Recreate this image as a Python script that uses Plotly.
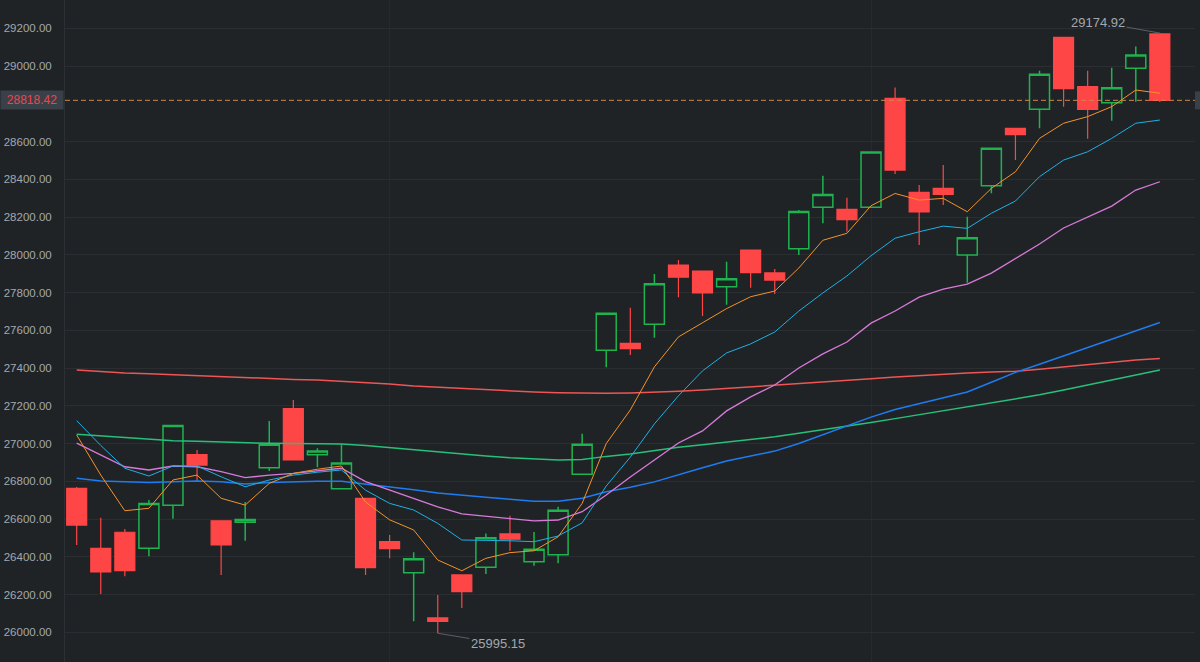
import plotly.graph_objects as go

# ---------------- data ----------------
opens = [26763, 26445, 26530, 26445, 26673, 26941, 26591, 26583, 26872, 27185,
         26941, 26761, 26710, 26480, 26316, 26076, 26304, 26344, 26521, 26374,
         26411, 26837, 27494, 27531, 27632, 27946, 27914, 27831, 28025, 27904,
         28032, 28252, 28241, 28252, 28829, 28331, 28352, 27999, 28366, 28670,
         28771, 29152, 28891, 28806, 28988, 29170]
highs = [26770, 26607, 26547, 26701, 27095, 26966, 26591, 26690, 27119, 27231,
         26975, 26996, 26710, 26515, 26424, 26198, 26304, 26524, 26618, 26531,
         26665, 27052, 27690, 27720, 27898, 27972, 27914, 27963, 28025, 27925,
         28237, 28419, 28302, 28546, 28887, 28370, 28476, 28202, 28564, 28670,
         28975, 29152, 28975, 28991, 29103, 29174.92]
lows = [26462, 26203, 26297, 26403, 26602, 26802, 26304, 26485, 26855, 26914,
        26874, 26761, 26304, 26392, 26058, 25995.15, 26129, 26309, 26432, 26353,
        26366, 26837, 27404, 27469, 27561, 27775, 27676, 27736, 27826, 27792,
        27999, 28167, 28122, 28252, 28428, 28052, 28264, 27852, 28326, 28502,
        28670, 28785, 28615, 28710, 28811, 28810]
closes = [26568, 26320, 26326, 26683, 27095, 26886, 26463, 26597, 26996, 26914,
          26960, 26897, 26342, 26443, 26390, 26058, 26215, 26501, 26493, 26440,
          26646, 26996, 27690, 27503, 27847, 27881, 27798, 27873, 27905, 27866,
          28230, 28320, 28186, 28545, 28449, 28227, 28320, 28091, 28564, 28636,
          28956, 28880, 28771, 28885, 29059, 28818.42]

ma5 = [27045, 26833, 26644, 26657, 26807, 26833, 26710, 26674, 26789, 26842,
       26864, 26881, 26690, 26596, 26542, 26383, 26326, 26392, 26422, 26432,
       26506, 26683, 27000, 27178, 27406, 27565, 27640, 27715, 27778, 27808,
       27930, 28077, 28114, 28260, 28325, 28290, 28299, 28228, 28352, 28440,
       28617, 28697, 28732, 28785, 28873, 28856]
ma10 = [27121, 26990, 26869, 26828, 26881, 26881, 26824, 26771, 26807, 26833,
        26848, 26860, 26753, 26683, 26648, 26577, 26489, 26489, 26485, 26480,
        26510, 26580, 26775, 26928, 27104, 27253, 27385, 27480, 27528, 27591,
        27702, 27798, 27888, 27995, 28088, 28122, 28152, 28140, 28220, 28285,
        28414, 28502, 28546, 28617, 28697, 28714]
ma20 = [27002, 26940, 26877, 26860, 26881, 26877, 26851, 26819, 26833, 26842,
        26854, 26869, 26798, 26754, 26710, 26665, 26627, 26616, 26604, 26590,
        26595, 26639, 26727, 26823, 26913, 27003, 27067, 27173, 27247, 27310,
        27400, 27475, 27538, 27638, 27702, 27776, 27818, 27845, 27903, 27978,
        28057, 28142, 28202, 28258, 28343, 28387]
ma30 = [26816, 26802, 26797, 26793, 26798, 26802, 26798, 26786, 26793, 26797,
        26800, 26800, 26786, 26770, 26755, 26738, 26725, 26716, 26705, 26694,
        26694, 26710, 26745, 26768, 26797, 26836, 26872, 26908, 26935, 26960,
        27000, 27047, 27093, 27140, 27180, 27212, 27243, 27273, 27325, 27377,
        27420, 27465, 27508, 27551, 27597, 27641]
ma60 = [27049, 27040, 27030, 27020, 27015, 27012, 27008, 27003, 27001, 27000,
        27000, 26997, 26990, 26978, 26966, 26955, 26943, 26934, 26925, 26918,
        26913, 26915, 26932, 26945, 26962, 26980, 26993, 27007, 27021, 27036,
        27054, 27072, 27090, 27111, 27132, 27153, 27172, 27193, 27214, 27235,
        27258, 27284, 27311, 27340, 27366, 27390]
ma120 = [27390, 27381, 27374, 27370, 27365, 27360, 27355, 27347, 27343, 27340,
         27337, 27330, 27322, 27315, 27305, 27298, 27292, 27287, 27280, 27273,
         27269, 27267, 27266, 27268, 27271, 27277, 27284, 27292, 27301, 27309,
         27318, 27328, 27335, 27343, 27353, 27361, 27368, 27374, 27379, 27383,
         27393, 27405, 27420, 27432, 27442, 27451]

y_tick_vals = [26000, 26200, 26400, 26600, 26800, 27000, 27200, 27400, 27600,
               27800, 28000, 28200, 28400, 28600, 29000, 29200]
y_tick_text = ["26000.00", "26200.00", "26400.00", "26600.00", "26800.00",
               "27000.00", "27200.00", "27400.00", "27600.00", "27800.00",
               "28000.00", "28200.00", "28400.00", "28600.00", "29000.00",
               "29200.00"]
x_grid_vals = [13, 33]
last_price = 28818.42

x_idx = list(range(len(opens)))

# ---------------- styles ----------------
BG = "#1f2326"
GRID = "#2a2e33"
UP = "#1fb34f"
DOWN = "#ff4646"
FONT = "Liberation Sans, Arial, sans-serif"

fig = go.Figure()

fig.add_trace(go.Candlestick(
    x=x_idx, open=opens, high=highs, low=lows, close=closes,
    increasing=dict(line=dict(color=UP, width=1.5), fillcolor=BG),
    decreasing=dict(line=dict(color=DOWN, width=1.2), fillcolor=DOWN),
    whiskerwidth=0, hoverinfo="skip", showlegend=False,
))

ma_series = [
    (ma120, "#ee5555", 1.5),
    (ma60, "#27c07a", 1.5),
    (ma30, "#1f7cf0", 1.5),
    (ma20, "#d77ad8", 1.3),
    (ma10, "#1eb0e4", 1.0),
    (ma5, "#f5922a", 1.0),
]
for vals, col, w in ma_series:
    fig.add_trace(go.Scatter(x=x_idx, y=vals, mode="lines",
                             line=dict(color=col, width=w),
                             hoverinfo="skip", showlegend=False))

# current price dashed line
fig.add_shape(type="line", xref="paper", x0=0, x1=1, yref="y",
              y0=last_price, y1=last_price,
              line=dict(color="#c8874a", width=1, dash="5px,3px"))

# price box on the left axis
fig.add_annotation(xref="paper", x=0, xanchor="right", xshift=-1,
                   yref="y", y=last_price, yanchor="middle",
                   text=f"{last_price:.2f}", showarrow=False,
                   font=dict(family=FONT, size=12, color="#f0444c"),
                   bgcolor="#3a4048", width=58, height=14, borderpad=2)
# clipped price box stub on the right edge
fig.add_shape(type="rect", xref="paper", x0=1.0, x1=1.02,
              yref="y", ysizemode="pixel", yanchor=last_price, y0=-9, y1=9,
              fillcolor="#3a4048", line=dict(width=0), layer="above")

# max / min markers
i_max = highs.index(max(highs))
i_min = lows.index(min(lows))
fig.add_annotation(x=i_max, y=highs[i_max], text=f"{highs[i_max]:.2f}",
                   showarrow=True, arrowhead=0, arrowwidth=1,
                   arrowcolor="#5b6066", ax=-62, ay=-11,
                   font=dict(family=FONT, size=13, color="#a3a8ae"))
fig.add_annotation(x=i_min, y=lows[i_min], text=f"{lows[i_min]:.2f}",
                   showarrow=True, arrowhead=0, arrowwidth=1,
                   arrowcolor="#5b6066", ax=60, ay=10,
                   font=dict(family=FONT, size=13, color="#a3a8ae"))

fig.update_layout(
    width=1200, height=662,
    margin=dict(l=65, r=5, t=0, b=0),
    paper_bgcolor=BG, plot_bgcolor=BG,
    boxgap=0.17, boxgroupgap=0,
    showlegend=False,
    hovermode=False,
    font=dict(family=FONT, color="#a3a8ae"),
    xaxis=dict(range=[-0.486, 46.46], rangeslider=dict(visible=False),
               showticklabels=False, tickvals=x_grid_vals, showgrid=True,
               gridcolor="#262a2e", gridwidth=1, zeroline=False,
               showline=False, fixedrange=True),
    yaxis=dict(range=[25842.6, 29350], tickvals=y_tick_vals,
               ticktext=y_tick_text, showgrid=True, gridcolor=GRID,
               gridwidth=1, zeroline=False, ticks="", ticklabelstandoff=10,
               showline=True, linecolor="#2c3035", linewidth=1,
               tickfont=dict(family=FONT, size=11.5, color="#a3a8ae"),
               fixedrange=True),
)

fig.write_html("out.html", config={"displayModeBar": False})
